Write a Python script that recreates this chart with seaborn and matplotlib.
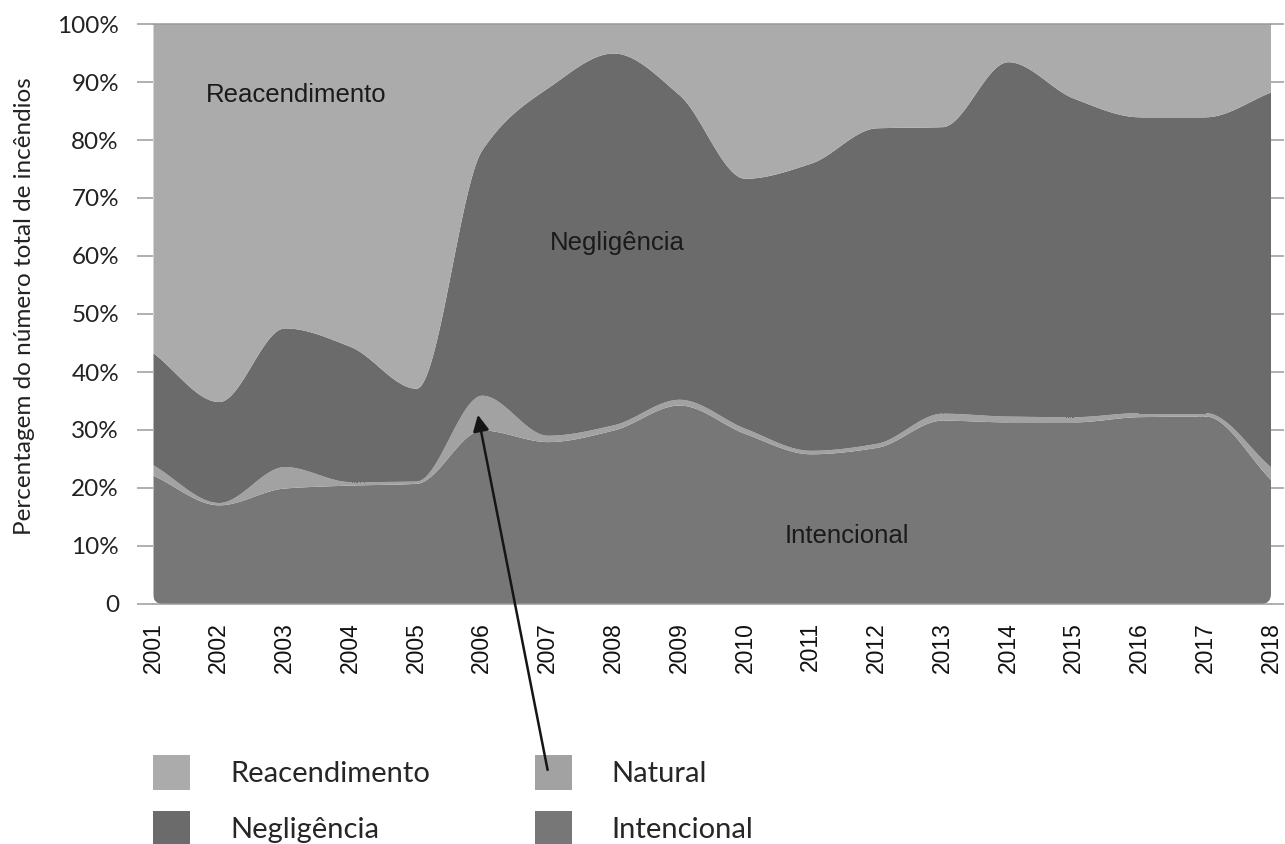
import numpy as np
import matplotlib
matplotlib.use("Agg")
import matplotlib.pyplot as plt
import seaborn as sns
from matplotlib.patches import Patch, FancyBboxPatch

# ---- data (percent of total number of fires) ----
years = list(range(2001, 2019))
intencional = [22.2, 17.1, 20.0, 20.5, 20.8, 30.0, 28.0, 30.0, 34.3, 29.4, 25.9, 27.0, 31.7, 31.4, 31.4, 32.3, 32.4, 21.4]
natural = [1.8, 0.4, 3.7, 0.6, 0.4, 6.0, 1.1, 0.9, 1.0, 0.9, 0.6, 0.7, 1.2, 1.0, 0.9, 0.7, 0.6, 2.2]
negligencia = [19.3, 17.4, 23.9, 23.3, 16.0, 42.3, 59.9, 64.1, 52.5, 43.1, 49.5, 54.4, 49.4, 61.1, 54.9, 51.0, 51.0, 64.7]
reacendimento = [56.7, 65.1, 52.4, 55.6, 62.8, 21.7, 11.0, 5.0, 12.2, 26.6, 24.0, 17.9, 17.7, 6.5, 12.8, 16.0, 16.0, 11.7]

series_names = ["Intencional", "Natural", "Negligência", "Reacendimento"]
colors = {"Intencional": "#777777", "Natural": "#a2a2a2",
          "Negligência": "#6b6b6b", "Reacendimento": "#ababab"}
yticks = [0, 10, 20, 30, 40, 50, 60, 70, 80, 90, 100]
ytick_labels = ["0", "10%", "20%", "30%", "40%", "50%", "60%", "70%", "80%", "90%", "100%"]
ylabel = "Percentagem do número total de incêndios"


def pchip(x, y, xs):
    """Monotone cubic (PCHIP) rendering of a curve through the data points."""
    x = np.asarray(x, float); y = np.asarray(y, float)
    h = np.diff(x); d = np.diff(y) / h
    m = np.zeros_like(y)
    for k in range(1, len(y) - 1):
        if d[k - 1] * d[k] > 0:
            w1 = 2 * h[k] + h[k - 1]; w2 = h[k] + 2 * h[k - 1]
            m[k] = (w1 + w2) / (w1 / d[k - 1] + w2 / d[k])
    m[0] = d[0]; m[-1] = d[-1]
    idx = np.clip(np.searchsorted(x, xs) - 1, 0, len(h) - 1)
    t = (xs - x[idx]) / h[idx]
    h00 = 2 * t**3 - 3 * t**2 + 1; h10 = t**3 - 2 * t**2 + t
    h01 = -2 * t**3 + 3 * t**2; h11 = t**3 - t**2
    return (h00 * y[idx] + h10 * h[idx] * m[idx] +
            h01 * y[idx + 1] + h11 * h[idx] * m[idx + 1])


sns.set_theme(style="white")
plt.rcParams["font.family"] = ["Lato", "DejaVu Sans"]

fig = plt.figure(figsize=(12.85, 8.44), dpi=100)
ax = fig.add_axes([153 / 1285, 240 / 844, 1118 / 1285, 580 / 844])

values = {"Intencional": intencional, "Natural": natural,
          "Negligência": negligencia, "Reacendimento": reacendimento}
cum = np.zeros(len(years))
xs = np.linspace(years[0], years[-1], 1200)
lower_s = np.zeros_like(xs)

clip = FancyBboxPatch((0, 0), 1, 1.3, boxstyle="round,pad=0,rounding_size=0.009",
                      mutation_aspect=(10 / 580) / (10 / 1118), transform=ax.transAxes)

for name in series_names:
    cum = cum + np.asarray(values[name])
    upper_s = np.maximum(pchip(years, cum, xs), lower_s)
    if name == "Reacendimento":
        upper_s = np.full_like(xs, 100.0)
    coll = ax.fill_between(xs, lower_s, upper_s, color=colors[name], lw=0)
    coll.set_clip_path(clip)
    lower_s = upper_s

ax.set_xlim(years[0], years[-1])
ax.set_ylim(0, 100)
ax.set_xticks(years)
ax.set_xticklabels([str(y) for y in years], rotation=90,
                   fontfamily=["Liberation Sans", "DejaVu Sans"], fontsize=16.5,
                   color="#111111")
ax.set_yticks(yticks)
ax.set_yticklabels(ytick_labels, fontsize=17.5, color="#222222")
ax.tick_params(axis="x", length=0, pad=13)
ax.tick_params(axis="y", which="both", left=True, right=True, direction="out",
               length=11.5, width=1.1, color="#9a9a9a", pad=13)
for t in ax.yaxis.get_major_ticks():
    t.tick2line.set_markersize(9.5)

for side in ["left", "right"]:
    ax.spines[side].set_visible(False)
for side in ["top", "bottom"]:
    ax.spines[side].set_visible(True)
    ax.spines[side].set_color("#9a9a9a")
    ax.spines[side].set_linewidth(1.1)

ax.set_ylabel(ylabel, fontsize=17.5, color="#222222")
ax.yaxis.set_label_coords(-0.1055, 0.514)

txt_font = ["Liberation Sans", "DejaVu Sans"]
ax.text(2003.18, 86.6, "Reacendimento", ha="center", va="baseline",
        fontsize=18.5, fontfamily=txt_font, color="#1a1a1a")
ax.text(2008.06, 61.0, "Negligência", ha="center", va="baseline",
        fontsize=18.5, fontfamily=txt_font, color="#1a1a1a")
ax.text(2011.55, 10.5, "Intencional", ha="center", va="baseline",
        fontsize=18.5, fontfamily=txt_font, color="#1a1a1a")

ax.annotate("", xy=(2005.94, 32.6), xytext=(2007.0, -28.6),
            arrowprops=dict(arrowstyle="-|>", color="#151515", lw=1.8,
                            mutation_scale=24, shrinkA=0, shrinkB=0),
            annotation_clip=False)

legend_order = ["Reacendimento", "Negligência", "Natural", "Intencional"]
handles = [Patch(facecolor=colors[n], edgecolor="none", label=n) for n in legend_order]
leg = fig.legend(handles=handles, ncol=2, loc="upper left",
                 bbox_to_anchor=(153 / 1285, (844 - 755) / 844), frameon=False,
                 fontsize=21, handlelength=1.27, handleheight=1.467, handletextpad=1.37,
                 columnspacing=3.6, labelspacing=0.72, borderpad=0, borderaxespad=0)
leg.set_zorder(-1)

fig.savefig("out.png", dpi=100)
